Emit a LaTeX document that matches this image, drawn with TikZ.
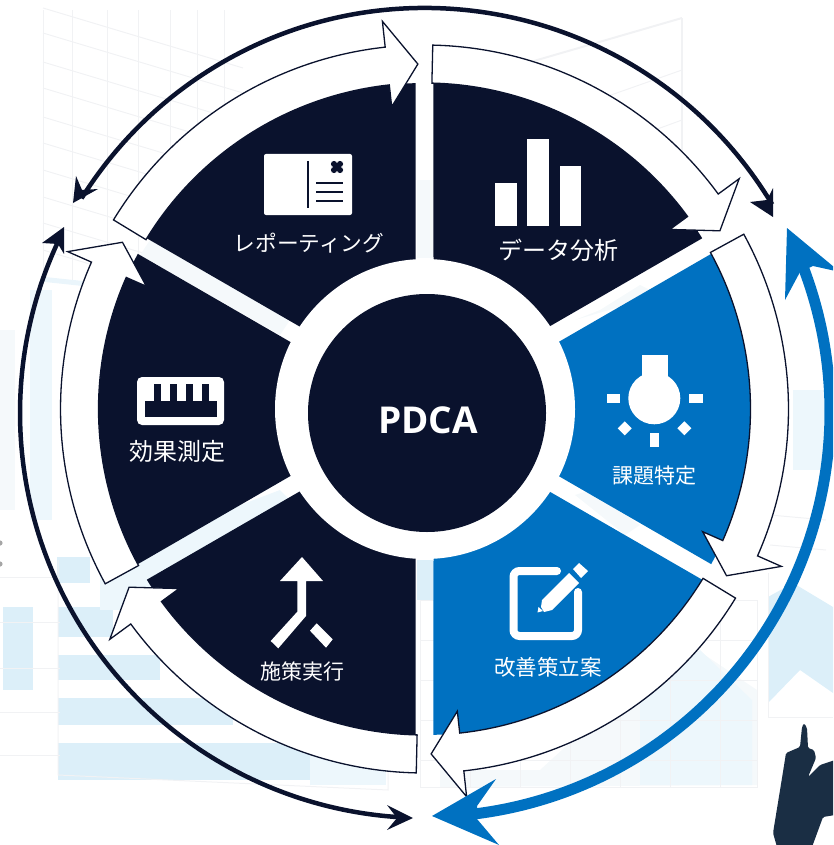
\documentclass[tikz,border=0pt]{standalone}
\usepackage{fontspec}
\newfontfamily\jp{Noto Sans CJK JP}
\newfontfamily\pd{Open Sans}
\definecolor{navy}{HTML}{0A122D}
\definecolor{blu}{HTML}{0071C1}
\definecolor{pale}{HTML}{DCEFF9}
\definecolor{paler}{HTML}{EDF7FC}
\definecolor{palest}{HTML}{F5F9FB}
\definecolor{gridc}{HTML}{F1F2F4}
\definecolor{sil}{HTML}{1A2E44}
\tikzset{
  jplabel/.style={text=white,font=\jp,inner sep=0pt,anchor=center},
  ringarrow/.style={fill=white,draw=navy,line width=1.3pt,line join=miter},
  navyarc/.style={draw=navy,line width=4.5pt},
  bluearc/.style={draw=blu,line width=11pt},
  gridline/.style={draw=gridc,line width=1pt},
}
\begin{document}
\begin{tikzpicture}[x=1pt,y=-1pt]
\useasboundingbox (0,0) rectangle (833,845);
\clip (0,0) rectangle (833,845);
% ---- faint background charts ----
\foreach \yy in {8,33,62,88,117,143,170,197,223,250}
  \draw[gridline] (43,\yy) -- ++(200,60);
\foreach \xx in {43,72,107,138,170,197,224}
  \draw[gridline] (\xx,10) -- (\xx,280);
\draw[gridline,line width=2pt] (682,18) -- (682,200);
\draw[gridline,line width=2pt] (682,18) -- (520,65);
\draw[gridline] (682,70) -- (540,120);
\draw[gridline] (682,120) -- (600,150);
% left bars
\fill[palest] (0,330) rectangle (15,510);
\fill[paler] (30,290) rectangle (52,520);
\fill[pale!60!white] (45,277) -- (83,281) -- (83,286) -- (45,282) -- cycle;
\fill[pale] (3,607) rectangle (33,690);
\fill[pale] (57,557) rectangle (90,583);
\fill[pale] (58,607) rectangle (113,637);
\fill[pale] (58,655) rectangle (160,680);
\fill[pale] (58,698) rectangle (233,725);
\fill[pale] (58,743) rectangle (310,780);
\fill[paler] (310,743) rectangle (386,785);
\fill[paler] (100,560) rectangle (190,610);
\draw[gridline] (58,560) -- (58,775) -- (388,790) -- (388,770);
\foreach \yy in {577,622,668,712,755}
  \draw[gridline] (0,\yy) -- (60,\yy);
\fill[gray!70] (0,543) circle (2.6);
\fill[gray!70] (0,564) circle (2.6);
% bottom-right chart
\fill[palest] (440,787) -- (440,770) -- (540,770) -- (600,715) -- (690,645) -- (757,690) -- (757,785) -- cycle;
\fill[paler] (640,785) -- (640,690) -- (700,650) -- (752,700) -- (752,785) -- cycle;
\draw[gridline] (420,600) rectangle (757,787);
\foreach \xx in {470,520,570,620,670,720}
  \draw[gridline] (\xx,600) -- (\xx,787);
\foreach \yy in {640,680,720,760}
  \draw[gridline] (420,\yy) -- (757,\yy);
% right panel
\fill[pale] (768,597) -- (793,583) -- (833,607) -- (833,693) -- (800,670) -- (768,703) -- cycle;
\draw[gridline] (768,573) -- (768,717) -- (833,717);
\fill[paler] (793,390) rectangle (824,470);
\draw[gridline] (770,515) -- (826,520);
\draw[gridline] (770,545) -- (826,550);
% gap tints
\fill[pale] (417,560) rectangle (433,600);
\fill[palest] (417,180) rectangle (433,258);
\fill[palest] (575,495) -- (590,490) -- (640,525) -- (625,535) -- cycle;
\fill[palest] (575,320) -- (600,310) -- (640,285) -- (660,295) -- cycle;
\fill[paler] (135,545) -- (280,490) -- (290,500) -- (150,580) -- cycle;
\fill[palest] (150,240) -- (290,320) -- (280,335) -- (140,255) -- cycle;
% silhouette
\fill[sil,rounded corners=1.5pt] (804,723) -- (807,728) -- (808,748) -- (814,750) -- (816,758) -- (808,777)
  -- (820,765) -- (835,760) -- (835,815) -- (823,817) -- (812,847) -- (777,847) -- (773,833) -- (782,778)
  -- (786,753) -- (800,747) -- (802,727) -- cycle;
% ---- wedges and ring arrows ----
\begin{scope}[shift={(424.5,409)},y=1pt]
  \foreach \a/\c in {30/navy,90/navy,150/navy,210/navy,270/blu,330/blu}{
    \pgfmathsetmacro{\aa}{\a+1.58}
    \pgfmathsetmacro{\bb}{\a+60-1.58}
    \pgfmathsetmacro{\mm}{\a+30}
    \fill[\c] (\aa:326) arc (\aa:\bb:326) -- (\mm:18) -- cycle;
  }
  \foreach \k in {0,...,5}{
    \begin{scope}[rotate={-60*\k}]
      \draw[ringarrow] (88.7:326) arc (88.7:36.2:326) -- (36.2:304) -- (31.1:345)
        -- (36.2:390) -- (36.2:364) arc (36.2:88.7:364) -- cycle;
    \end{scope}
  }
\end{scope}
% ---- outer arcs ----
\begin{scope}[shift={(425,413)},y=1pt]
  \draw[navyarc] (31:405) arc (31:148:405);
  \draw[navyarc] (154.5:405) arc (154.5:267:405);
\end{scope}
\begin{scope}[shift={(425,412)},y=1pt]
  \draw[bluearc] (-83.5:405) arc (-83.5:21:405);
\end{scope}
\fill[navy] (773,217) -- (773,188) -- (767,200) -- (750,202) -- cycle;
\fill[navy] (73,203) -- (76,176) -- (82,190) -- (98,189) -- cycle;
\fill[navy] (64,227) -- (42,243) -- (58,244) -- (64,254) -- cycle;
\fill[navy] (413,818) -- (387,805) -- (397,818) -- (387,830) -- cycle;
\fill[blu] (787,228) -- (785,300) -- (800,272) -- (813,266) -- (840,272) -- cycle;
\fill[blu] (432,816) -- (496,779) -- (477,806) -- (477,819) -- (499,845) -- cycle;
% ---- centre ----
\fill[white] (425,409) circle (150);
\fill[navy] (427,413) circle (119);
\node[text=white,inner sep=0pt] (pdca) at (428,420) {\pd\bfseries\fontsize{37}{41}\selectfont PDCA};
% ---- bars icon ----
\fill[white] (495,183) rectangle (517,226);
\fill[white] (527,139) rectangle (549,226);
\fill[white] (560,166) rectangle (581,226);
\node[jplabel] (data) at (558,250) {\fontsize{24}{28}\selectfont データ分析};
% ---- postcard icon ----
\fill[white,rounded corners=2pt] (264,154) rectangle (352,215);
\draw[navy,line width=2.5pt] (308,161) -- (308,208);
\foreach \yy in {183,192,201} \draw[navy,line width=2.5pt] (316,\yy) -- (343,\yy);
\foreach \dx/\dy in {-3/-3,3/-3,-3/3,3/3} \fill[navy] (337+\dx,167+\dy) circle (3.1);
\fill[navy] (334,164) rectangle (340,170);
\node[jplabel] (report) at (309,243) {\fontsize{21.7}{25}\selectfont レポーティング};
% ---- ruler icon ----
\fill[white,rounded corners=5pt] (137,377) rectangle (224,425);
\fill[navy] (145,401) rectangle (217,417);
\foreach \xx in {153.5,169.5,185.5,201.5} \fill[navy] (\xx,384) rectangle (\xx+7.5,401.5);
\node[jplabel] (measure) at (177,451) {\fontsize{24}{28}\selectfont 効果測定};
% ---- merge icon ----
\fill[white] (302,557) -- (323,581) -- (306,581) -- (306,616) -- (278.3,648.3) -- (270.7,641) -- (297.3,611.7) -- (297.3,581) -- (280,581) -- cycle;
\fill[white] (316.7,623.3) -- (332.7,639.3) -- (326,647.7) -- (310,630.7) -- cycle;
\node[jplabel] (exec) at (302,672) {\fontsize{21}{25}\selectfont 施策実行};
% ---- bulb icon ----
\fill[white] (641.7,354.7) rectangle (667.7,378);
\fill[white] (654.3,398.3) circle (26);
\fill[white] (606.7,394.3) rectangle (620,402.7);
\fill[white] (689.3,394.3) rectangle (702.7,402.7);
\fill[white] (650.3,433.3) rectangle (659,446.7);
\fill[white] (624.7,421.3) -- (631.7,428.3) -- (624.7,435.3) -- (617.7,428.3) -- cycle;
\fill[white] (684.3,421.3) -- (691.3,428.3) -- (684.3,435.3) -- (677.3,428.3) -- cycle;
\node[jplabel] (issue) at (654,476) {\fontsize{21}{25}\selectfont 課題特定};
% ---- edit icon ----
\draw[white,line width=8pt,line cap=round,rounded corners=6pt] (557,571) -- (513.5,571) -- (513.5,636) -- (578,636) -- (578,592);
\fill[white] (542,600) -- (569,573) -- (579,583) -- (552,610) -- (544,612) -- (541,607) -- cycle;
\fill[white] (573,569) -- (579,563) -- (588,571) -- (581,578) -- cycle;
\fill[white] (537.5,612.5) -- (538.5,607) -- (543,611) -- cycle;
\node[jplabel] (plan) at (548,667) {\fontsize{21.5}{25}\selectfont 改善策立案};
\end{tikzpicture}
\end{document}
